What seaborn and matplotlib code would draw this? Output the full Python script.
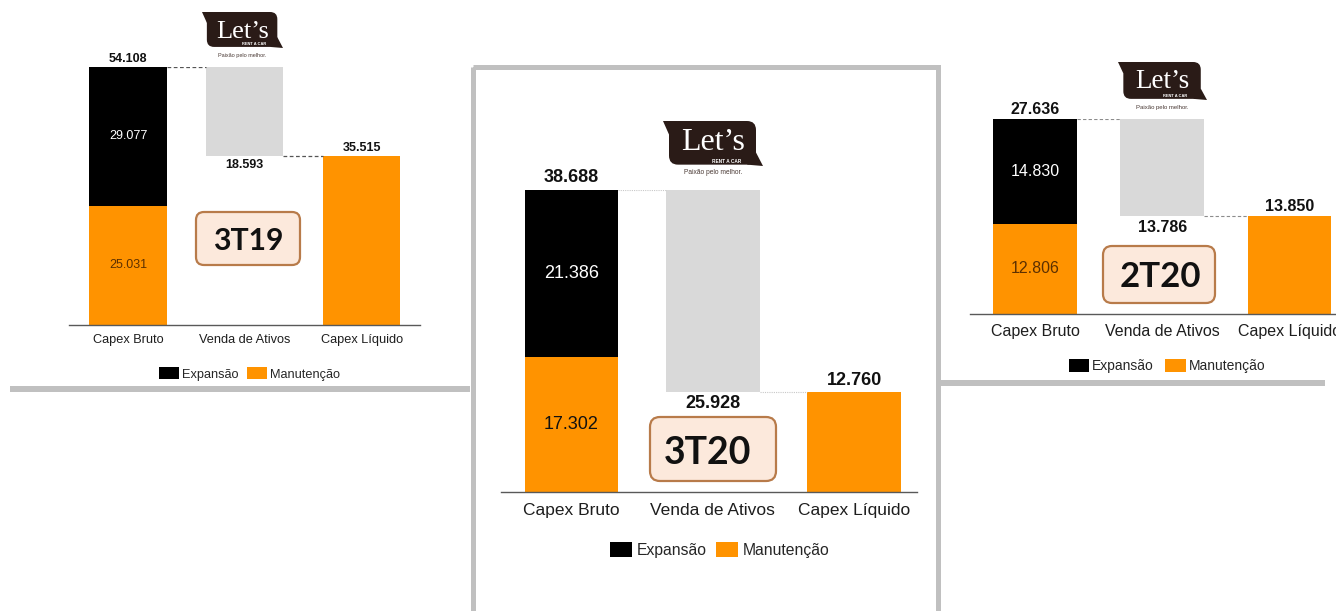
import matplotlib
matplotlib.use("Agg")
import matplotlib.pyplot as plt
import seaborn as sns
from matplotlib.patches import FancyBboxPatch, Rectangle, Polygon, Patch

categorias = ["Capex Bruto", "Venda de Ativos", "Capex Líquido"]
legenda = ["Expansão", "Manutenção"]
trimestres = ["3T19", "3T20", "2T20"]
expansao = [29077, 21386, 14830]
manutencao = [25031, 17302, 12806]
venda_ativos = [18593, 25928, 13786]

PRETO = "#000000"
LARANJA = "#FF9300"
CINZA = "#D9D9D9"
MOLDURA = "#C0C0C0"
MARROM = "#2A1B17"
W, H = 1336, 611

sns.set_theme(style="white")
plt.rcParams["font.family"] = ["Liberation Sans", "DejaVu Sans"]

# posicoes em pixels de cada painel (layout, nao dados)
paineis = [
    dict(c0=128, sp=116.8, left=69, right=420, base=325, top=67, bw=0.66,
         fs_tick=9.2, pad=6.3, fs_val=9, off=8.0, off_b=9.4, fs_leg=9.2, leg=(249.5, 374),
         leg_kw=dict(handlelength=1.56, handleheight=1.04, handletextpad=0.25, columnspacing=0.7),
         caixa=(196, 212, 300, 265, 8), fs_tri=21.7, tri_xy=(248.5, 250),
         logo=(202, 12, 283, 48), fs_logo=19, logo_base=37.5, fs_tag=4, tag_y=55,
         conector=dict(color="#555555", lw=0.9, ls=(0, (3, 2))), cor_manut="#5C3000"),
    dict(c0=571.5, sp=141.25, left=501, right=917, base=492, top=190, bw=0.665,
         fs_tick=12.5, pad=7.6, fs_val=13, off=12.0, off_b=11.0, fs_leg=11.3, leg=(719.5, 550),
         leg_kw=dict(handlelength=1.4, handleheight=1.06, handletextpad=0.32, columnspacing=0.57),
         caixa=(650, 417, 776, 481, 10), fs_tri=27, tri_xy=(707.5, 464),
         logo=(663, 121, 763, 166), fs_logo=23, logo_base=150.5, fs_tag=4.8, tag_y=173,
         conector=dict(color="#C8C8C8", lw=0.8, ls=(0, (1, 1))), cor_manut="#111111"),
    dict(c0=1035, sp=127.25, left=970, right=1353, base=314, top=119, bw=0.66,
         fs_tick=11.5, pad=7.2, fs_val=11.5, off=9.5, off_b=11.0, fs_leg=10, leg=(1167, 366),
         leg_kw=dict(handlelength=1.5, handleheight=1.03, handletextpad=0.2, columnspacing=0.8),
         caixa=(1103, 246, 1215, 303, 9), fs_tri=25, tri_xy=(1160.5, 286.7),
         logo=(1118, 62, 1207, 100), fs_logo=19.5, logo_base=88.5, fs_tag=4.3, tag_y=107,
         conector=dict(color="#8C8C8C", lw=0.8, ls=(0, (3, 2))), cor_manut="#5C3000"),
]


def fmt(v):
    return f"{v:,.0f}".replace(",", ".")


def desenha_logo(ax, x0, y0, x1, y1, fs, base, fs_tag, tag_y):
    w, h = x1 - x0, y1 - y0
    r = h * 0.2
    xa, xb = x0 + w * 0.06, x1 - w * 0.07
    ax.add_patch(FancyBboxPatch((xa, y0), xb - xa, h * 0.97,
                                boxstyle=f"round,pad=0,rounding_size={r}", fc=MARROM, ec="none"))
    ax.add_patch(Polygon([(x0, y0), (xa + r, y0), (xa, y0 + r * 1.5)], fc=MARROM, ec="none"))
    ax.add_patch(Polygon([(x1, y1), (xb - r, y1 - h * 0.03), (xb, y1 - r * 1.5)], fc=MARROM, ec="none"))
    em = fs * 100 / 72
    cx = (x0 + x1) / 2
    ax.text(cx, base, "Let\u2019s", color="white", fontsize=fs, family="Liberation Serif",
            ha="center", va="baseline")
    ax.text(cx + 0.9 * em, y0 + h * 0.9, "RENT A CAR", color="white", fontsize=fs * 0.15,
            fontweight="bold", ha="right", va="center")
    ax.text(cx, tag_y, "Paixão pelo melhor.", color="#4A3A35", fontsize=fs_tag,
            ha="center", va="center")


fig = plt.figure(figsize=(W / 100, H / 100), dpi=100)

for i, p in enumerate(paineis):
    bruto = expansao[i] + manutencao[i]
    liquido = bruto - venda_ativos[i]
    ax = fig.add_axes([p["left"] / W, 1 - p["base"] / H,
                       (p["right"] - p["left"]) / W, (p["base"] - p["top"]) / H])
    bw = p["bw"]

    sns.barplot(x=categorias, y=[manutencao[i], 0, liquido], order=categorias,
                color=LARANJA, saturation=1, width=bw, linewidth=0, ax=ax)
    ax.bar([0, 1], [expansao[i], venda_ativos[i]], bottom=[manutencao[i], liquido],
           width=bw, color=[PRETO, CINZA], linewidth=0)

    c = p["conector"]
    ax.plot([bw / 2, 1 - bw / 2], [bruto, bruto], color=c["color"], lw=c["lw"], ls=c["ls"])
    ax.plot([1 + bw / 2, 2 - bw / 2], [liquido, liquido], color=c["color"], lw=c["lw"], ls=c["ls"])

    ax.set_xlim((p["left"] - p["c0"]) / p["sp"], (p["right"] - p["c0"]) / p["sp"])
    ax.set_ylim(0, bruto)
    ax.set_yticks([])
    ax.set_xlabel("")
    ax.set_ylabel("")
    ax.patch.set_alpha(0)
    sns.despine(ax=ax, left=True)
    ax.spines["bottom"].set_color("#595959")
    ax.spines["bottom"].set_linewidth(1)
    ax.tick_params(axis="x", length=0, pad=p["pad"], labelsize=p["fs_tick"], labelcolor="#1E1E1E")

    fv = p["fs_val"]
    ax.annotate(fmt(bruto), (0, bruto), xytext=(0, p["off"] * 0.72), textcoords="offset points",
                ha="center", va="center", fontsize=fv, fontweight="bold", color="#111111")
    ax.annotate(fmt(liquido), (2, liquido), xytext=(0, p["off"] * 0.72), textcoords="offset points",
                ha="center", va="center", fontsize=fv, fontweight="bold", color="#111111")
    ax.annotate(fmt(venda_ativos[i]), (1, liquido), xytext=(0, -p["off_b"] * 0.72),
                textcoords="offset points", ha="center", va="center", fontsize=fv,
                fontweight="bold", color="#111111")
    ax.text(0, manutencao[i] + expansao[i] / 2, fmt(expansao[i]), ha="center", va="center",
            fontsize=fv, color="white")
    ax.text(0, manutencao[i] / 2, fmt(manutencao[i]), ha="center", va="center",
            fontsize=fv, color=p["cor_manut"])

    alcas = [Patch(facecolor=PRETO, edgecolor="none"), Patch(facecolor=LARANJA, edgecolor="none")]
    fig.legend(alcas, legenda, loc="center", bbox_to_anchor=(p["leg"][0] / W, 1 - p["leg"][1] / H),
               ncol=2, frameon=False, fontsize=p["fs_leg"], borderpad=0, **p["leg_kw"])

# camada de cima em pixels: molduras, logos e selos do trimestre
top = fig.add_axes([0, 0, 1, 1], zorder=5)
top.set_xlim(0, W)
top.set_ylim(H, 0)
top.axis("off")

top.plot([10, 470], [389, 389], color=MOLDURA, lw=6 * 0.72, solid_capstyle="butt")
top.plot([940, 1325], [383, 383], color=MOLDURA, lw=6 * 0.72, solid_capstyle="butt")
top.add_patch(Rectangle((472.5, 66.5), 465, 600, fill=False, ec=MOLDURA, lw=5 * 0.72))

for i, p in enumerate(paineis):
    x0, y0, x1, y1, r = p["caixa"]
    top.add_patch(FancyBboxPatch((x0, y0), x1 - x0, y1 - y0,
                                 boxstyle=f"round,pad=0,rounding_size={r}",
                                 fc="#FCE9DC", ec="#B87B4A", lw=1.6))
    top.text(p["tri_xy"][0], p["tri_xy"][1], trimestres[i], ha="center", va="baseline",
             fontsize=p["fs_tri"], fontweight="bold", family="Lato", color="#111111")
    lx0, ly0, lx1, ly1 = p["logo"]
    desenha_logo(top, lx0, ly0, lx1, ly1, p["fs_logo"], p["logo_base"], p["fs_tag"], p["tag_y"])

fig.savefig("out.png", dpi=100)
